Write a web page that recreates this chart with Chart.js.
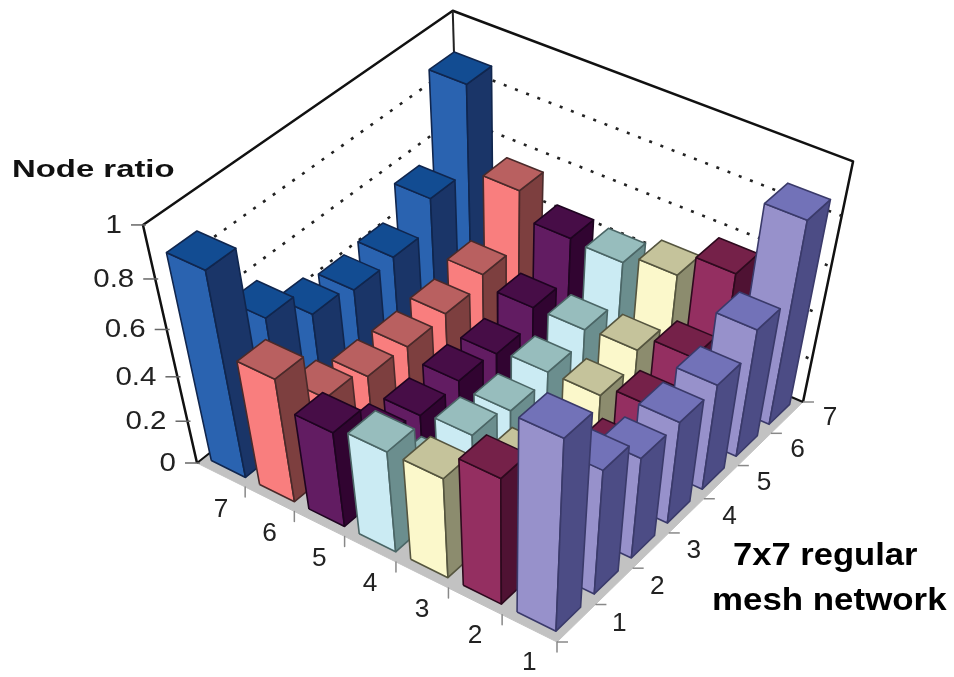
<!DOCTYPE html>
<html>
<head>
<meta charset="utf-8">
<title>Node ratio</title>
<script src="https://cdn.jsdelivr.net/npm/chart.js@4/dist/chart.umd.min.js"></script>
<style>
  html,body{margin:0;padding:0;background:#fff}
  canvas{display:block}
</style>
</head>
<body>
<canvas id="chart" width="954" height="677"></canvas>
<script>
  const rowLabels = ['7','6','5','4','3','2','1'];
  const colLabels = ['1','2','3','4','5','6','7'];
  const zTicks = [0,0.2,0.4,0.6,0.8,1];
  const zTickLabels = ['0','0.2','0.4','0.6','0.8','1'];

  // one array per row, values run from column 1 to column 7
  const row7 = [0.89,0.57,0.45,0.42,0.43,0.55,0.88];
  const row6 = [0.56,0.33,0.28,0.27,0.28,0.32,0.55];
  const row5 = [0.44,0.24,0.21,0.22,0.20,0.27,0.44];
  const row4 = [0.47,0.20,0.23,0.19,0.22,0.27,0.43];
  const row3 = [0.47,0.20,0.20,0.20,0.22,0.28,0.47];
  const row2 = [0.59,0.15,0.20,0.20,0.27,0.35,0.57];
  const row1 = [0.87,0.58,0.47,0.47,0.48,0.57,0.87];
  const rows = [row7,row6,row5,row4,row3,row2,row1];

  const frontColors = ['#2a63b0','#f97e7e','#621c62','#cbebf3','#fbf8cb','#942f61','#9791cb'];
  const topColors   = ['#124c92','#b96060','#470d47','#97bdbd','#c5c39b','#752149','#7272b8'];
  const sideColors  = ['#1a3568','#7d3f3f','#310431','#6b8e8e','#8c8c6e','#4f1233','#4c4c85'];
  const edgeColors  = ['#10264e','#4a2a2a','#1e0420','#4b6666','#55553f','#2e0a1e','#3a3a6a'];

  // perspective frame of the 3d box, in canvas units
  const L = [197,463], F = [557,642], R = [803,402], B = [460,255.6];
  const VP = [506.6,1827];
  const wallW = -0.1486;
  const gapS = 0.145, gapT = 0.18; // free space around a bar, fraction of a cell

  const dx1 = F[0]-R[0], dy1 = F[1]-R[1], dx2 = B[0]-R[0], dy2 = B[1]-R[1];
  const dx3 = L[0]-F[0]+R[0]-B[0], dy3 = L[1]-F[1]+R[1]-B[1];
  const det = dx1*dy2-dx2*dy1;
  const g = (dx3*dy2-dx2*dy3)/det, h = (dx1*dy3-dx3*dy1)/det;

  // s runs along the row axis, t along the column axis, z is the value
  function project(s,t,z){
    const X = (F[0]-L[0]+g*F[0])*s+(B[0]-L[0]+h*B[0])*t+L[0]+z*wallW*VP[0];
    const Y = (F[1]-L[1]+g*F[1])*s+(B[1]-L[1]+h*B[1])*t+L[1]+z*wallW*VP[1];
    const D = g*s+h*t+1+z*wallW;
    return {x:X/D,y:Y/D};
  }

  const sets = [];
  function poly(points,fillColor,edge,width,dash){
    sets.push({
      data:points,showLine:true,pointRadius:0,pointHoverRadius:0,tension:0,clip:false,
      fill:fillColor?'shape':false,backgroundColor:fillColor||'transparent',
      borderColor:edge,borderWidth:width,borderDash:dash||[],borderJoinStyle:'round'
    });
  }
  function closed(a){ return a.concat([a[0]]); }

  // floor and walls
  poly(closed([project(0,0,0),project(1,0,0),project(1,1,0),project(0,1,0)]),'#c2c2c2','#c2c2c2',1);
  poly([project(0,0,0),project(0,1,0),project(1,1,0)],null,'#111',2);
  poly([project(0,0,0),project(0,0,1),project(0,1,1),project(1,1,1),project(1,1,0)],null,'#111',2.5);
  poly([project(0,1,0),project(0,1,1)],null,'#222',2);
  // dotted grid starts behind the first bar of row 7
  zTicks.slice(1,-1).forEach(z=>{
    poly([project(0,0.06,z),project(0,1,z),project(1,1,z)],null,'#222',2.6,[3,9]);
  });

  // tick marks
  zTicks.forEach(z=>{
    const p = project(0,0,z);
    poly([{x:p.x-12,y:p.y},{x:p.x+3,y:p.y}],null,'#666',1.5);
  });
  for(let k=1;k<=7;k++){
    const a = project(k/7,0,0), b = project(1,k/7,0);
    poly([a,{x:a.x,y:a.y+10}],null,'#888',1.5);
    poly([b,{x:b.x+11,y:b.y}],null,'#888',1.5);
  }
  const c0 = project(1,0,0);
  poly([c0,{x:c0.x+11,y:c0.y}],null,'#888',1.5);

  // bars, back to front
  rows.forEach((vals,i)=>{
    for(let j=vals.length-1;j>=0;j--){
      const z = vals[j];
      const s0 = (i+gapS)/7, s1 = (i+1-gapS)/7, t0 = (j+gapT)/7, t1 = (j+1-gapT)/7;
      poly(closed([project(s0,t0,0),project(s1,t0,0),project(s1,t0,z),project(s0,t0,z)]),frontColors[i],edgeColors[i],1.6);
      poly(closed([project(s1,t0,0),project(s1,t1,0),project(s1,t1,z),project(s1,t0,z)]),sideColors[i],edgeColors[i],1.6);
      poly(closed([project(s0,t0,z),project(s1,t0,z),project(s1,t1,z),project(s0,t1,z)]),topColors[i],edgeColors[i],1.6);
    }
  });

  // tick labels and captions, some of them stretched sideways
  function put(ctx,text,x,y,font,align,stretch,color){
    ctx.save();
    ctx.translate(x,y);
    ctx.scale(stretch,1);
    ctx.font = font;
    ctx.textAlign = align;
    ctx.textBaseline = 'middle';
    ctx.fillStyle = color;
    ctx.fillText(text,0,0);
    ctx.restore();
  }
  const labelPlugin = {
    id:'boxLabels',
    afterDraw(chart){
      const {ctx,scales:{x,y}} = chart;
      const px = p=>x.getPixelForValue(p.x), py = p=>y.getPixelForValue(p.y);
      const num = '25px "Liberation Sans"';
      zTicks.forEach((z,i)=>{
        const p = project(0,0,z);
        put(ctx,zTickLabels[i],px(p)-21,py(p)+1,num,'right',1.18,'#222');
      });
      rowLabels.forEach((t,i)=>{
        const p = project((i+0.5)/7,0,0);
        put(ctx,t,px(p),py(p)+35,num,'center',1.05,'#222');
      });
      colLabels.forEach((t,i)=>{
        const p = project(1,(i+0.5)/7,0);
        put(ctx,t,px(p)+43,py(p)+1,num,'center',1.05,'#222');
      });
      put(ctx,'Node ratio',12,170,'bold 24px "Liberation Sans"','left',1.37,'#111');
      put(ctx,'7x7 regular',733,556,'bold 32px "Liberation Sans"','left',1.08,'#000');
      put(ctx,'mesh network',712,601,'bold 32px "Liberation Sans"','left',1.09,'#000');
    }
  };

  new Chart(document.getElementById('chart'),{
    type:'scatter',
    data:{datasets:sets.slice().reverse()}, // the last dataset is painted first
    options:{
      responsive:false,
      animation:false,
      events:[],
      layout:{padding:0},
      plugins:{legend:{display:false},tooltip:{enabled:false},title:{display:false}},
      scales:{
        x:{type:'linear',min:0,max:954,display:false},
        y:{type:'linear',min:0,max:677,reverse:true,display:false}
      }
    },
    plugins:[labelPlugin]
  });
</script>
</body>
</html>
